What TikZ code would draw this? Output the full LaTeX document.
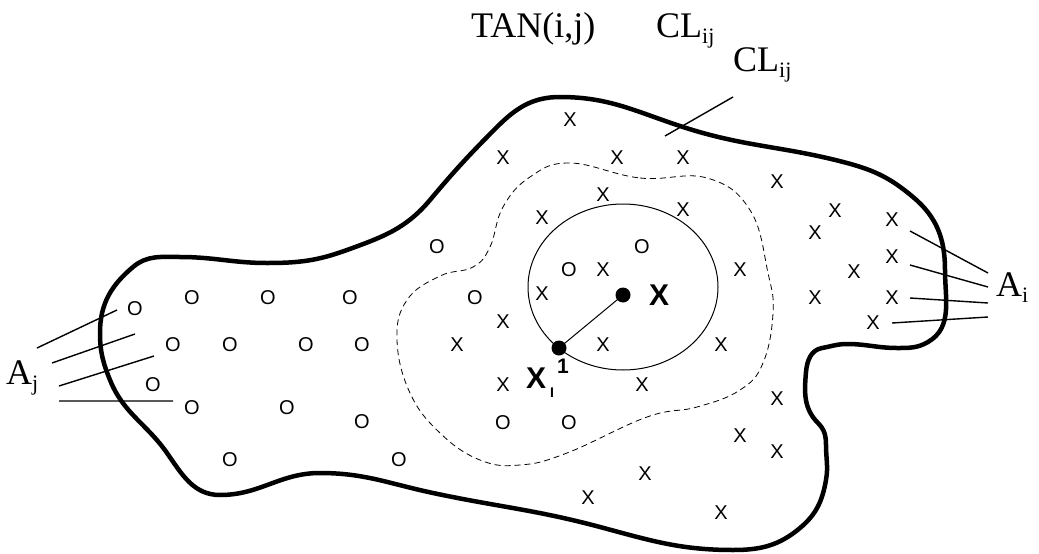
\documentclass[tikz,border=0pt]{standalone}
\usepackage{fontspec}
\setmainfont{Liberation Serif}
\setsansfont{Liberation Sans}
\begin{document}
\begin{tikzpicture}[x=1pt,y=-1pt,
  mk/.style={inner sep=0pt,font=\sffamily\fontsize{20}{20}\selectfont},
  lbl/.style={inner sep=0pt,anchor=base west,font=\fontsize{36}{36}\selectfont},
  bl/.style={inner sep=0pt,font=\sffamily\bfseries\fontsize{30}{30}\selectfont},
  leader/.style={line width=1.4pt},
  dot/.style={circle,fill=black,inner sep=0pt,minimum size=15pt}]
\useasboundingbox (0,0) rectangle (1039,554);
% outer boundary (y-up scope, negative y)
\begin{scope}[y=1pt]
\draw[line width=4.5pt,line join=round]
 (560,-97) to[out=0,in=162] (683,-127) to[out=-18,in=165] (847,-163)
 to[out=-15,in=140] (913,-197) to[out=-40,in=90] (945,-270)
 to[out=-90,in=30] (928,-342) to[out=-150,in=0] (897,-348)
 to[out=180,in=0] (847,-344) to[out=180,in=10] (822,-348)
 to[out=190,in=85] (806,-372) to[out=-95,in=135] (818,-423)
 to[out=-45,in=90] (826,-445) to[out=-90,in=80] (826,-480)
 to[out=-100,in=40] (800,-528) to[out=-140,in=0] (733,-550)
 to[out=180,in=-15] (600,-527) to[out=165,in=-12] (433,-493)
 to[out=168,in=0] (320,-473) to[out=180,in=0] (220,-495)
 to[out=180,in=-55] (167,-453) to[out=125,in=-68] (110,-380)
 to[out=112,in=-90] (100,-333) to[out=90,in=220] (133,-267)
 to[out=40,in=180] (180,-257) to[out=0,in=180] (267,-263)
 to[out=0,in=200] (347,-250) to[out=20,in=230] (430,-200)
 to[out=50,in=225] (497,-127) to[out=45,in=180] (560,-97) -- cycle;
\end{scope}
% dashed region
\draw[line width=0.8pt,dash pattern=on 6pt off 4pt] plot[smooth cycle,tension=0.7] coordinates {
(570,163) (640,178) (707,178) (750,210) (768,273)
(773,313) (763,363) (740,390) (697,407) (647,417) (567,453)
(520,465) (480,460) (440,433) (410,393) (397,340) (407,300) (440,276) (473,267)
(490,247) (503,207) (530,177)};
% circle
\draw[line width=1pt] (623,287) ellipse [x radius=95, y radius=83];
% O marks
\foreach \p [count=\i] in {(135,309),(192,298),(268,298),(350,298),(437,247),(475,298),
 (173,345),(230,345),(306,345),(362,345),(153,385),(192,408),(287,408),(362,422),
 (230,460),(399,460),(503,423),(569,423),(569,270),(642,247)}
  \node[mk] (o\i) at \p {O};
% X marks
\foreach \p [count=\i] in {(570,120),(503,158),(617,158),(683,158),(777,182),(603,195),
 (542,218),(683,210),(603,270),(740,270),(542,294),(503,322),(457,345),(603,345),
 (721,345),(503,385),(642,385),(777,399),(740,436),(777,452),(645,474),(588,498),
 (721,513),(835,211),(815,233),(892,220),(892,257),(854,272),(815,298),(892,298),(873,323)}
  \node[mk] (x\i) at \p {X};
% points
\node[dot] (px) at (623,295) {};
\node[dot] (pxi) at (559,348) {};
\draw[line width=1pt] (px.center) -- (pxi.center);
\node[bl,anchor=base west] (lx) at (649,305) {X};
\node[bl,anchor=base west] (lxi) at (526,388) {X};
\node[inner sep=0pt,anchor=base west,font=\sffamily\bfseries\fontsize{14}{14}\selectfont] (lxis) at (550,397) {I};
\node[inner sep=0pt,anchor=base west,font=\sffamily\bfseries\fontsize{21}{21}\selectfont] (lxi1) at (557,373) {1};
% top labels
\node[lbl] (tan) at (471,37) {TAN(i,j)};
\node[lbl] (cl1) at (656,37) {CL\raisebox{-6pt}{\fontsize{22}{22}\selectfont ij}};
\node[lbl] (cl2) at (733,71) {CL\raisebox{-6pt}{\fontsize{22}{22}\selectfont ij}};
\coordinate (c1a) at (733,97);
\coordinate (c1b) at (665,136);
\draw[leader] (c1a) -- (c1b);
% A_j
\node[lbl] (aj) at (6,384) {A\raisebox{-6pt}{\fontsize{22}{22}\selectfont j}};
\coordinate (j1a) at (37,348); \coordinate (j1b) at (117,310);
\coordinate (j2a) at (52,363); \coordinate (j2b) at (135,334);
\coordinate (j3a) at (59,386); \coordinate (j3b) at (154,356);
\coordinate (j4a) at (59,401); \coordinate (j4b) at (173,401);
\draw[leader] (j1a) -- (j1b) (j2a) -- (j2b) (j3a) -- (j3b) (j4a) -- (j4b);
% A_i
\node[lbl] (ai) at (996,296) {A\raisebox{-6pt}{\fontsize{22}{22}\selectfont i}};
\coordinate (i1a) at (910,231); \coordinate (i1b) at (988,273);
\coordinate (i2a) at (910,265); \coordinate (i2b) at (988,287);
\coordinate (i3a) at (910,298); \coordinate (i3b) at (988,303);
\coordinate (i4a) at (892,323); \coordinate (i4b) at (988,317);
\draw[leader] (i1a) -- (i1b) (i2a) -- (i2b) (i3a) -- (i3b) (i4a) -- (i4b);
\end{tikzpicture}
\end{document}
